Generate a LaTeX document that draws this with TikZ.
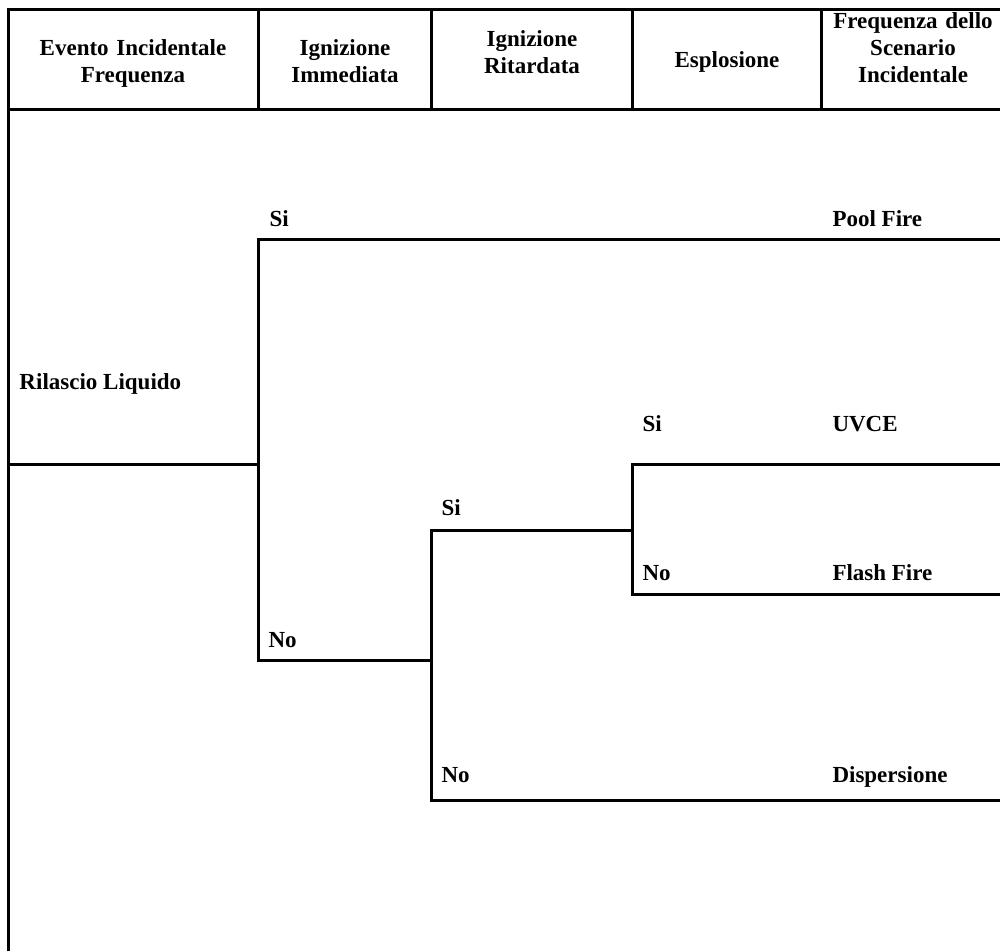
\documentclass[tikz,border=0pt]{standalone}
\usepackage{fontspec}
\setmainfont{Liberation Serif}

\begin{document}
\begin{tikzpicture}[x=1pt,y=-1pt,line width=3pt,
  every node/.style={font=\fontsize{23}{27}\selectfont\bfseries,inner sep=0pt},
  head/.style={text width=200pt,align=center,anchor=base},
  lab/.style={anchor=base west}]
\useasboundingbox (0,0) rectangle (1000,951);

% intestazione
\draw (8,951) -- (8,9) -- (1000,9);
\draw (8,109) -- (1000,109);
\foreach \x in {258,431,632,821}
  \draw (\x,9) -- (\x,109);

\node[head] (evento) at (133,55) {Evento Incidentale\\Frequenza};
\node[head] (immediata) at (345,55) {Ignizione\\Immediata};
\node[head] (ritardata) at (532,46) {Ignizione\\Ritardata};
\node[head] (esplosione) at (727,67) {Esplosione};
\node[head] (scenario) at (913,28) {Frequenza dello\\Scenario\\Incidentale};

% albero degli eventi
\coordinate (rel) at (8,464);
\coordinate (j1) at (258,464);
\coordinate (j2) at (431,660);
\coordinate (j3) at (632,530);
\coordinate (endpool) at (1000,239);
\coordinate (enduvce) at (1000,464);
\coordinate (endflash) at (1000,594);
\coordinate (enddisp) at (1000,800);

\draw (rel) -- (j1);
\draw (j1) |- (endpool);
\draw (j1) |- (j2);
\draw (j2) |- (j3);
\draw (j3) |- (enduvce);
\draw (j3) |- (endflash);
\draw (j2) |- (enddisp);

\node[lab] (rilascio) at (18,389) {Rilascio Liquido};
\node[lab] (si1) at (268,226) {Si};
\node[lab] (no1) at (267,647) {No};
\node[lab] (si2) at (440,515) {Si};
\node[lab] (no2) at (440,782) {No};
\node[lab] (si3) at (641,431) {Si};
\node[lab] (no3) at (641,580) {No};
\node[lab] (pool) at (831,226) {Pool Fire};
\node[lab] (uvce) at (831,431) {UVCE};
\node[lab] (flash) at (831,580) {Flash Fire};
\node[lab] (disp) at (831,782) {Dispersione};
\end{tikzpicture}
\end{document}
